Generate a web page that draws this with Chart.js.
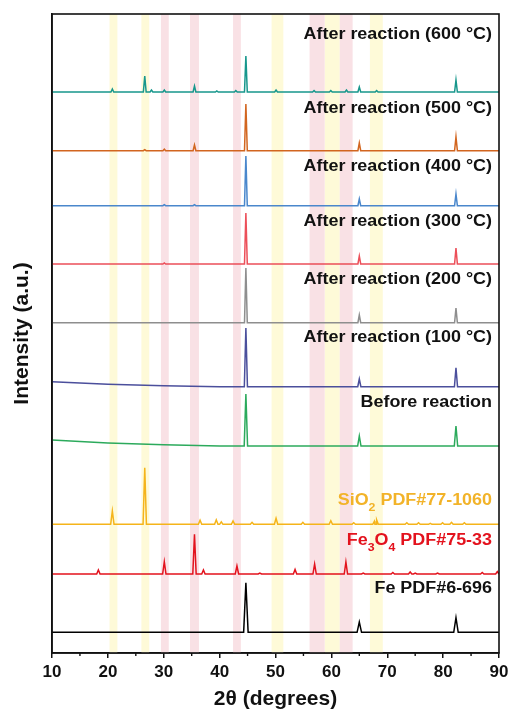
<!DOCTYPE html>
<html>
<head>
<meta charset="utf-8">
<script src="https://cdn.jsdelivr.net/npm/chart.js@4.4.1/dist/chart.umd.min.js"></script>
<style>
  html, body { margin: 0; padding: 0; background: #fff; }
  #wrap { width: 510px; height: 713px; }
</style>
</head>
<body>
<div id="wrap"><canvas id="c" width="510" height="713"></canvas></div>
<script>
// ---- Data ----
// x axis
const xMin = 10, xMax = 90;
const xTickValues = [10, 20, 30, 40, 50, 60, 70, 80, 90];
const xMinorTicks = [15, 25, 35, 45, 55, 65, 75, 85];

// highlight bands (degrees)
const yellowBands = [[20.3, 21.7], [26.0, 27.4], [49.3, 51.4], [58.8, 61.5], [66.9, 69.2]];
const pinkBands = [[29.5, 30.9], [34.7, 36.3], [42.4, 43.8], [56.1, 58.8], [61.5, 63.8]];

// series names (bottom to top)
const seriesNames = ["Fe PDF#6-696", "Fe_3O_4 PDF#75-33", "SiO_2 PDF#77-1060", "Before reaction",
  "After reaction (100 °C)", "After reaction (200 °C)", "After reaction (300 °C)",
  "After reaction (400 °C)", "After reaction (500 °C)", "After reaction (600 °C)"];

// vertical offsets (baselines) of each stacked pattern, intensity units
const baselines = [20.7, 79, 128.7, 207, 266.3, 330.3, 389, 447.3, 502.3, 561];

// label vertical positions (intensity units)
const labelY = [64, 112, 152, 250, 315, 373, 431, 486, 544, 618];

// peak positions / intensities
const fePos = [44.7, 65.0, 82.3];
const feInt = [49.6, 10.3, 14.6];
const fe3o4Pos = [18.3, 30.1, 35.5, 37.1, 43.1, 47.2, 53.5, 57.0, 62.6, 65.7, 71.0, 74.1, 75.0, 79.0, 87.0, 89.7];
const fe3o4Int = [4, 12.3, 39.7, 4, 8, 1, 4.5, 10, 12, 1, 1.5, 2, 1, 1, 1.5, 2.5];
const sio2Pos = [20.8, 26.6, 36.5, 39.4, 40.3, 42.4, 45.8, 50.1, 54.9, 59.9, 64.0, 67.7, 68.1, 73.5, 75.6, 77.7, 79.9, 81.5, 83.8];
const sio2Int = [13.3, 56.6, 4, 4.5, 2.5, 3.3, 2, 6, 2, 3.5, 1.5, 3, 4.5, 1.5, 1.5, 1, 1.5, 2, 1.5];
const beforePos = [44.7, 65.0, 82.3];
const beforeInt = [52, 10, 20];
const t100Pos = [44.7, 65.0, 82.3];
const t100Int = [58.7, 7.7, 19];
const t200Pos = [44.7, 65.0, 82.3];
const t200Int = [54.7, 7.7, 14.7];
const t300Pos = [30.1, 44.7, 65.0, 82.3];
const t300Int = [1, 51, 8, 16];
const t400Pos = [30.1, 35.5, 44.7, 65.0, 82.3];
const t400Int = [1, 1, 49.7, 6.7, 11.7];
const t500Pos = [26.6, 30.1, 35.5, 44.7, 65.0, 82.3];
const t500Int = [1, 1.5, 5.7, 46.7, 7.7, 13.7];
const t600Pos = [20.8, 26.6, 27.8, 30.1, 35.5, 39.5, 42.9, 44.7, 50.1, 56.9, 59.9, 62.7, 65.0, 68.1, 82.3];
const t600Int = [3, 16, 2, 2, 6, 1, 1.5, 36, 2, 1.5, 1.5, 2, 5, 1.5, 12];

// sloping backgrounds [2θ, offset above baseline]
const flatBg = [[10, 0], [90, 0]];
const beforeBg = [[10, 6], [20, 3], [30, 1.2], [40, 0], [90, 0]];
const t100Bg = [[10, 5], [20, 2.5], [30, 1], [40, 0], [90, 0]];

const peakPos = [fePos, fe3o4Pos, sio2Pos, beforePos, t100Pos, t200Pos, t300Pos, t400Pos, t500Pos, t600Pos];
const peakInt = [feInt, fe3o4Int, sio2Int, beforeInt, t100Int, t200Int, t300Int, t400Int, t500Int, t600Int];
const backgrounds = [flatBg, flatBg, flatBg, beforeBg, t100Bg, flatBg, flatBg, flatBg, flatBg, flatBg];

// ---- Styles ----
const lineColors = ["#000000", "#e3121d", "#f5b41a", "#2caa5c", "#4b4f9c", "#8e8e8e", "#ec4f59", "#4a87cc", "#d2651f", "#17978c"];
const labelColors = ["#111111", "#e3121d", "#f2b329", "#111111", "#111111", "#111111", "#111111", "#111111", "#111111", "#111111"];
const peakHalfWidth = [0.4, 0.3, 0.3, 0.3, 0.28, 0.25, 0.25, 0.25, 0.25, 0.25];

function buildPoints(i) {
  const pts = [];
  const base = baselines[i];
  backgrounds[i].forEach(([x, y]) => pts.push({ x: x, y: base + y }));
  const w = peakHalfWidth[i];
  peakPos[i].forEach((p, k) => {
    pts.push({ x: p - w, y: base });
    pts.push({ x: p, y: base + peakInt[i][k] });
    pts.push({ x: p + w, y: base });
  });
  pts.sort((a, b) => a.x - b.x);
  return pts.filter(pt => pt.x >= xMin && pt.x <= xMax);
}

const datasets = seriesNames.map((name, i) => ({
  label: name,
  data: buildPoints(i),
  borderColor: lineColors[i],
  borderWidth: 1.5,
  pointRadius: 0,
  tension: 0,
  fill: false
}));

const FONT = "'Liberation Sans', Arial, sans-serif";

const bandsPlugin = {
  id: 'bands',
  beforeDatasetsDraw(chart) {
    const { ctx, chartArea, scales } = chart;
    ctx.save();
    const draw = (bands, color) => {
      ctx.fillStyle = color;
      bands.forEach(([a, b]) => {
        const x1 = scales.x.getPixelForValue(a);
        const x2 = scales.x.getPixelForValue(b);
        ctx.fillRect(x1, chartArea.top, x2 - x1, chartArea.bottom - chartArea.top);
      });
    };
    draw(yellowBands, 'rgba(254, 249, 212, 0.9)');
    draw(pinkBands, 'rgba(248, 220, 225, 0.85)');
    ctx.restore();
  }
};

const framePlugin = {
  id: 'frame',
  afterDraw(chart) {
    const { ctx, chartArea, scales } = chart;
    ctx.save();
    ctx.strokeStyle = '#111';
    ctx.lineWidth = 1.6;
    ctx.strokeRect(chartArea.left, chartArea.top, chartArea.right - chartArea.left, chartArea.bottom - chartArea.top);
    // minor ticks
    ctx.lineWidth = 1.4;
    xMinorTicks.forEach(v => {
      const x = scales.x.getPixelForValue(v);
      ctx.beginPath();
      ctx.moveTo(x, chartArea.bottom);
      ctx.lineTo(x, chartArea.bottom + 3);
      ctx.stroke();
    });
    // series labels
    const fs = 16, stretch = 1.12, subFs = 11;
    seriesNames.forEach((name, i) => {
      const y = scales.y.getPixelForValue(labelY[i]);
      // parse subscripts: "_" makes the next char subscript
      const parts = [];
      for (let k = 0; k < name.length; k++) {
        if (name[k] === '_') { parts.push({ t: name[k + 1], sub: true }); k++; }
        else {
          if (parts.length && !parts[parts.length - 1].sub) parts[parts.length - 1].t += name[k];
          else parts.push({ t: name[k], sub: false });
        }
      }
      let total = 0;
      parts.forEach(p => {
        ctx.font = 'bold ' + (p.sub ? subFs : fs) + 'px ' + FONT;
        p.w = ctx.measureText(p.t).width;
        total += p.w;
      });
      const right = chartArea.right - 7;
      ctx.save();
      ctx.translate(right, y);
      ctx.scale(stretch, 1);
      ctx.fillStyle = labelColors[i];
      ctx.textBaseline = 'middle';
      ctx.textAlign = 'left';
      let cx = -total;
      parts.forEach(p => {
        ctx.font = 'bold ' + (p.sub ? subFs : fs) + 'px ' + FONT;
        ctx.fillText(p.t, cx, p.sub ? 7 : 0);
        cx += p.w;
      });
      ctx.restore();
    });
    ctx.restore();
  }
};

new Chart(document.getElementById('c'), {
  type: 'line',
  data: { datasets },
  options: {
    responsive: false,
    animation: false,
    devicePixelRatio: 1,
    layout: { padding: { left: 6, right: 11, top: 14, bottom: 0 } },
    plugins: { legend: { display: false }, tooltip: { enabled: false } },
    scales: {
      x: {
        type: 'linear',
        min: xMin, max: xMax,
        afterBuildTicks: (scale) => { scale.ticks = xTickValues.map(v => ({ value: v })); },
        afterFit: (scale) => { scale.height = 60; scale.paddingLeft = 0; scale.paddingRight = 0; },
        ticks: { color: '#111', font: { family: FONT, size: 17, weight: 'bold' }, padding: 4, maxRotation: 0 },
        grid: { display: true, drawOnChartArea: false, drawTicks: true, tickLength: 5, color: '#111', lineWidth: 1.5 },
        border: { display: true, color: '#111', width: 1.6 },
        title: { display: true, text: '2θ (degrees)', color: '#111', font: { family: FONT, size: 21, weight: 'bold' }, padding: { top: 0, bottom: 1 } }
      },
      y: {
        type: 'linear',
        min: 0, max: 639,
        afterFit: (scale) => { scale.width = 46; },
        ticks: { display: false },
        grid: { display: false, drawTicks: false },
        border: { display: true, color: '#111', width: 1.6 },
        title: { display: true, text: 'Intensity (a.u.)', color: '#111', font: { family: FONT, size: 21, weight: 'bold' }, padding: { top: 4, bottom: 0 } }
      }
    }
  },
  plugins: [bandsPlugin, framePlugin]
});
</script>
</body>
</html>
